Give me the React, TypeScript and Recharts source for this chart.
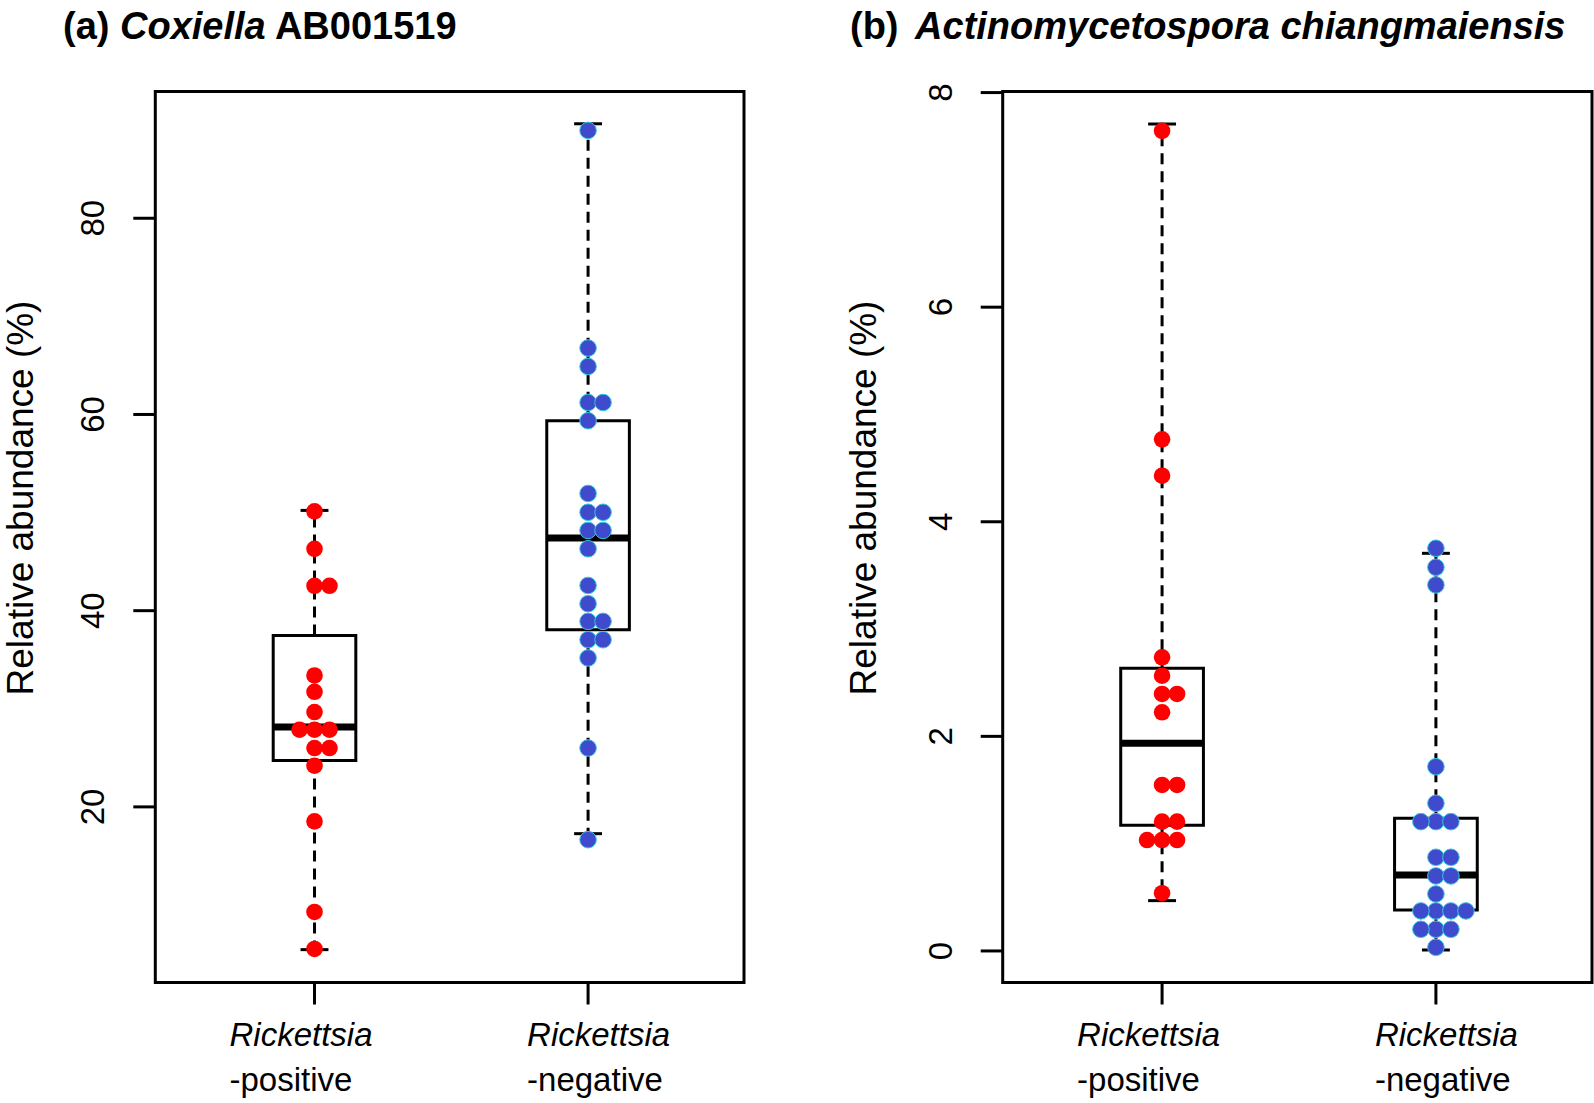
import { ComposedChart, Scatter, XAxis, YAxis, ReferenceArea, ReferenceLine } from 'recharts';

const GROUP_NAME = 'Rickettsia';
const GROUP_SUFFIX = ['-positive', '-negative'];

// (a) Coxiella AB001519, relative abundance (%)
const coxPositive = [50.12, 46.31, 42.54, 42.54, 33.4, 31.73, 29.67, 27.87, 27.87, 27.87, 26.0, 26.0, 24.2, 18.52, 9.29, 5.52];
const coxNegative = [88.95, 66.77, 64.89, 61.22, 61.22, 59.36, 51.95, 50.03, 50.03, 48.18, 48.18, 46.31, 42.57, 40.71, 38.91, 38.91, 37.04, 37.04, 35.18, 26.0, 16.66];
const coxLower = [5.45, 17.27];
const coxQ1 = [24.74, 38.06];
const coxMedian = [28.14, 47.4];
const coxQ3 = [37.48, 59.36];
const coxUpper = [50.22, 89.63];
const coxTicks = [20, 40, 60, 80];

// (b) Actinomycetospora chiangmaiensis
const actPositive = [7.644, 4.768, 4.429, 2.737, 2.565, 2.395, 2.395, 2.224, 1.547, 1.547, 1.205, 1.205, 1.034, 1.034, 1.034, 0.538];
const actNegative = [3.753, 3.576, 3.411, 1.717, 1.376, 1.205, 1.205, 1.205, 0.873, 0.873, 0.699, 0.699, 0.531, 0.373, 0.373, 0.373, 0.373, 0.202, 0.202, 0.202, 0.034];
const actLower = [0.469, 0.009];
const actQ1 = [1.171, 0.382];
const actMedian = [1.935, 0.708];
const actQ3 = [2.634, 1.237];
const actUpper = [7.707, 3.706];
const actTicks = [0, 2, 4, 6, 8];

const FONT = '"Liberation Sans", Arial, Helvetica, sans-serif';
const X_DOMAIN: [number, number] = [0.418, 2.57];
const PLOT_W = 589;
const PLOT_H = 891;
const BOX_HALF = 0.151;
const CAP_HALF = 0.051;
const DOT_R = 8.3;
const DOT_GAP = 15;
const LABEL_SHIFT = [-85, -61];

// simple beeswarm: same-row points go 0, +1, -1, +2 ...
function swarmSlots(values: number[], pxPerUnit: number) {
  const order = values.map((_, i) => i).sort((a, b) => values[a] - values[b]);
  const slots = new Array(values.length).fill(0);
  const placed: { y: number; slot: number }[] = [];
  const tries = [0, 1, -1, 2, -2, 3, -3];
  for (const i of order) {
    const y = values[i] * pxPerUnit;
    const slot = tries.find(k => !placed.some(p => p.slot === k && Math.abs(p.y - y) < DOT_GAP)) ?? 0;
    placed.push({ y, slot });
    slots[i] = slot;
  }
  return slots;
}

function toPoints(values: number[], group: number, yDomain: [number, number]) {
  const pxY = PLOT_H / (yDomain[1] - yDomain[0]);
  const unitX = DOT_GAP / (PLOT_W / (X_DOMAIN[1] - X_DOMAIN[0]));
  const slots = swarmSlots(values, pxY);
  return values.map((v, i) => ({ x: group + slots[i] * unitX, y: v }));
}

const YTick = (props: any) => {
  const { x, y, payload } = props;
  const cx = x - 41;
  return (
    <text x={cx} y={y} dy="0.36em" transform={`rotate(-90 ${cx} ${y})`} textAnchor="middle"
      fontFamily={FONT} fontSize={33} fill="#000">
      {payload.value}
    </text>
  );
};

const XTick = (props: any) => {
  const { x, y, payload } = props;
  const idx = payload.value === 1 ? 0 : 1;
  const left = x + LABEL_SHIFT[idx];
  return (
    <g fontFamily={FONT} fontSize={33} fill="#000">
      <text x={left} y={y + 41} fontStyle="italic">{GROUP_NAME}</text>
      <text x={left} y={y + 86}>{GROUP_SUFFIX[idx]}</text>
    </g>
  );
};

const RedDot = (p: any) => <circle cx={p.cx} cy={p.cy} r={DOT_R} fill="#ff0000" />;
const BlueDot = (p: any) => <circle cx={p.cx} cy={p.cy} r={DOT_R} fill="#3f4acc" stroke="#35c8dc" strokeWidth={1} />;

interface PanelProps {
  left: number;
  width: number;
  marginLeft: number;
  marginRight: number;
  positive: number[];
  negative: number[];
  lower: number[];
  q1: number[];
  median: number[];
  q3: number[];
  upper: number[];
  yDomain: [number, number];
  yTicks: number[];
}

function BoxPanel(p: PanelProps) {
  const pos = toPoints(p.positive, 1, p.yDomain);
  const neg = toPoints(p.negative, 2, p.yDomain);
  return (
    <div style={{ position: 'absolute', left: p.left, top: 0 }}>
      <ComposedChart width={p.width} height={1103}
        margin={{ top: 91.5, right: p.marginRight, bottom: 20.5, left: p.marginLeft }}>
        <XAxis type="number" dataKey="x" domain={X_DOMAIN} allowDataOverflow ticks={[1, 2]} interval={0}
          axisLine={false} tickSize={22} tickMargin={0} height={100}
          tickLine={{ stroke: '#000', strokeWidth: 3 }} tick={<XTick />} />
        <YAxis type="number" dataKey="y" domain={p.yDomain} allowDataOverflow ticks={p.yTicks} interval={0}
          axisLine={false} tickSize={22} tickMargin={0} width={100}
          tickLine={{ stroke: '#000', strokeWidth: 3 }} tick={<YTick />} />
        {[1, 2].map((g, i) => [
          <ReferenceLine key={`wu${g}`} segment={[{ x: g, y: p.q3[i] }, { x: g, y: p.upper[i] }]}
            stroke="#000" strokeWidth={3} strokeDasharray="11 7" />,
          <ReferenceLine key={`wl${g}`} segment={[{ x: g, y: p.q1[i] }, { x: g, y: p.lower[i] }]}
            stroke="#000" strokeWidth={3} strokeDasharray="11 7" />,
          <ReferenceLine key={`cu${g}`} segment={[{ x: g - CAP_HALF, y: p.upper[i] }, { x: g + CAP_HALF, y: p.upper[i] }]}
            stroke="#000" strokeWidth={3} />,
          <ReferenceLine key={`cl${g}`} segment={[{ x: g - CAP_HALF, y: p.lower[i] }, { x: g + CAP_HALF, y: p.lower[i] }]}
            stroke="#000" strokeWidth={3} />,
          <ReferenceArea key={`b${g}`} x1={g - BOX_HALF} x2={g + BOX_HALF} y1={p.q1[i]} y2={p.q3[i]}
            fill="none" fillOpacity={0} stroke="#000" strokeWidth={3} />,
          <ReferenceLine key={`m${g}`} segment={[{ x: g - BOX_HALF, y: p.median[i] }, { x: g + BOX_HALF, y: p.median[i] }]}
            stroke="#000" strokeWidth={7} />,
        ])}
        <ReferenceArea x1={X_DOMAIN[0]} x2={X_DOMAIN[1]} y1={p.yDomain[0]} y2={p.yDomain[1]}
          fill="none" fillOpacity={0} stroke="#000" strokeWidth={3} />
        <Scatter data={pos} dataKey="y" shape={RedDot} isAnimationActive={false} zIndex={1000} />
        <Scatter data={neg} dataKey="y" shape={BlueDot} isAnimationActive={false} zIndex={1000} />
      </ComposedChart>
    </div>
  );
}

export default function App() {
  return (
    <div style={{ position: 'absolute', left: 0, top: 0, width: 1594, height: 1103, background: '#fff' }}>
      <BoxPanel left={0} width={800} marginLeft={55.3} marginRight={56}
        positive={coxPositive} negative={coxNegative}
        lower={coxLower} q1={coxQ1} median={coxMedian} q3={coxQ3} upper={coxUpper}
        yDomain={[2.1, 92.92]} yTicks={coxTicks} />
      <BoxPanel left={800} width={794} marginLeft={102.7} marginRight={2}
        positive={actPositive} negative={actNegative}
        lower={actLower} q1={actQ1} median={actMedian} q3={actQ3} upper={actUpper}
        yDomain={[-0.294, 8.01]} yTicks={actTicks} />
      <svg width={1594} height={1103} style={{ position: 'absolute', left: 0, top: 0, pointerEvents: 'none' }}
        fontFamily={FONT} fill="#000">
        <text x={63} y={39} fontSize={38} fontWeight="bold">
          (a) <tspan fontStyle="italic">Coxiella</tspan> AB001519
        </text>
        <text x={850} y={39} fontSize={38} fontWeight="bold">
          (b) <tspan dx={6} fontStyle="italic">Actinomycetospora chiangmaiensis</tspan>
        </text>
        <text x={23} y={498} dy="0.26em" fontSize={37} textAnchor="middle" transform="rotate(-90 23 498)">
          Relative abundance (%)
        </text>
        <text x={866} y={498} dy="0.26em" fontSize={37} textAnchor="middle" transform="rotate(-90 866 498)">
          Relative abundance (%)
        </text>
      </svg>
    </div>
  );
}
